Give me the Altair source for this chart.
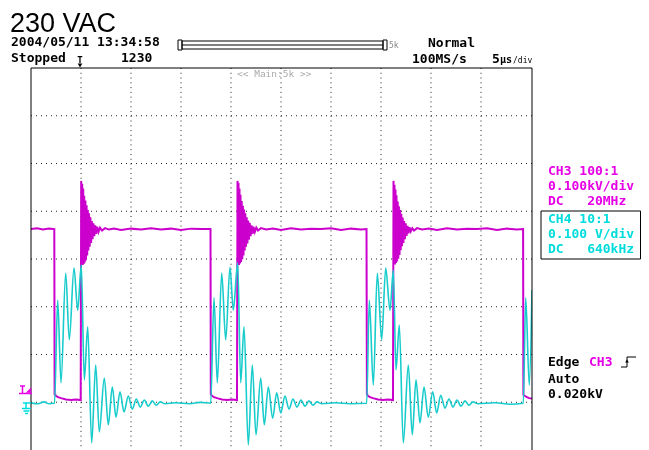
import altair as alt
import pandas as pd

T_DIVS = [5, 10, 15, 20, 25, 30, 35, 40, 45]          # µs grid lines (5 µs/div)
V_DIVS = [1, 2, 3, 4, 5, 6, 7]                        # vertical divisions

CH3_GROUND_DIV = 1.076   # CH3 0 kV position (div from bottom)
CH3_PER_DIV = 0.1        # kV/div
CH4_GROUND_DIV = 0.978   # CH4 0 V position
CH4_PER_DIV = 0.1        # V/div

CH3_T = [0.0, 0.6, 1.2, 1.8, 2.33, 2.36, 2.5, 2.7, 3.0, 3.5, 4.0, 4.5, 4.97,
         5.02, 5.07, 5.12, 5.17, 5.22, 5.27, 5.32, 5.38, 5.44, 5.50, 5.56, 5.62, 5.68, 5.74,
         5.80, 5.87, 5.94, 6.01, 6.08, 6.16, 6.24, 6.33, 6.42, 6.52, 6.62, 6.75, 6.90, 7.10,
         7.40, 7.80, 8.30, 9.0, 10.0, 11.0, 12.0, 13.0, 14.0, 15.0, 16.0, 17.0, 17.95,
         17.98, 18.1, 18.3, 18.6, 19.1, 19.6, 20.1, 20.6,
         20.65, 20.70, 20.75, 20.80, 20.85, 20.90, 20.95, 21.01, 21.07, 21.13, 21.19, 21.25,
         21.31, 21.37, 21.43, 21.50, 21.57, 21.64, 21.71, 21.79, 21.87, 21.96, 22.05, 22.15,
         22.25, 22.38, 22.53, 22.70, 23.0, 23.5, 24.2, 25.0, 26.0, 27.0, 28.0, 29.0, 30.0,
         31.0, 32.0, 33.0, 33.55,
         33.59, 33.7, 33.9, 34.2, 34.7, 35.2, 35.7, 36.2,
         36.25, 36.30, 36.35, 36.40, 36.45, 36.50, 36.55, 36.61, 36.67, 36.73, 36.79, 36.85,
         36.91, 36.97, 37.03, 37.10, 37.17, 37.24, 37.31, 37.39, 37.47, 37.56, 37.65, 37.75,
         37.85, 37.98, 38.13, 38.30, 38.6, 39.1, 39.8, 40.6, 41.6, 42.6, 43.6, 44.6, 45.6,
         46.6, 47.6, 48.6, 49.21, 49.24, 49.5, 49.8, 50.1]
CH3_KV = [0.355, 0.357, 0.354, 0.356, 0.355, 0.009, 0.006, 0.003, 0.001, -0.002, -0.003, -0.002, -0.003,
          0.456, 0.290, 0.450, 0.280, 0.440, 0.282, 0.425, 0.285, 0.415, 0.290, 0.405, 0.300, 0.395, 0.310,
          0.388, 0.318, 0.380, 0.326, 0.372, 0.334, 0.367, 0.340, 0.363, 0.345, 0.360, 0.349, 0.358, 0.352,
          0.357, 0.354, 0.356, 0.353, 0.356, 0.354, 0.357, 0.354, 0.356, 0.353, 0.356, 0.355, 0.355,
          0.009, 0.006, 0.003, 0.001, -0.002, -0.003, -0.002, -0.003,
          0.456, 0.288, 0.452, 0.280, 0.440, 0.283, 0.427, 0.286, 0.414, 0.292, 0.404, 0.300,
          0.396, 0.310, 0.388, 0.318, 0.380, 0.325, 0.373, 0.333, 0.368, 0.340, 0.363, 0.345,
          0.360, 0.349, 0.358, 0.352, 0.357, 0.354, 0.356, 0.353, 0.357, 0.354, 0.356, 0.355, 0.357,
          0.353, 0.356, 0.354, 0.355,
          0.009, 0.006, 0.003, 0.001, -0.002, -0.003, -0.002, -0.003,
          0.456, 0.290, 0.448, 0.281, 0.438, 0.284, 0.426, 0.287, 0.413, 0.293, 0.403, 0.301,
          0.395, 0.311, 0.387, 0.319, 0.379, 0.326, 0.372, 0.334, 0.367, 0.341, 0.362, 0.346,
          0.359, 0.350, 0.357, 0.352, 0.357, 0.354, 0.356, 0.353, 0.357, 0.354, 0.356, 0.355, 0.357,
          0.353, 0.356, 0.354, 0.355, 0.008, 0.004, 0.001, 0.000]

CH4_T = [0.0, 0.7, 1.3, 1.8, 2.35, 2.67, 3.00, 3.47, 3.83, 4.30, 4.67, 5.03, 5.33, 5.67, 6.07,
         6.47, 6.83, 7.33, 7.73, 8.13, 8.50, 8.90, 9.30, 9.73, 10.13, 10.53, 10.93, 11.33,
         11.73, 12.13, 12.53, 12.93, 13.40, 14.40, 15.90, 16.90, 17.97,
         18.30, 18.63, 19.07, 19.47, 19.90, 20.23, 20.67, 20.97, 21.30, 21.73, 22.13, 22.50,
         22.97, 23.33, 23.73, 24.17, 24.57, 24.97, 25.40, 25.80, 26.20, 26.60, 27.00, 27.40,
         27.80, 28.20, 28.60, 29.10, 30.40, 31.90, 33.57,
         33.83, 34.23, 34.63, 35.07, 35.47, 35.90, 36.23, 36.50, 36.83, 37.23, 37.73, 38.13,
         38.50, 38.90, 39.30, 39.73, 40.17, 40.57, 40.97, 41.40, 41.80, 42.20, 42.60, 43.00,
         43.40, 43.80, 44.20, 44.70, 46.40, 47.90, 49.23, 49.47, 49.83, 50.10]
CH4_V = [0.001, -0.001, 0.003, -0.001, 0.000, 0.216, 0.043, 0.272, 0.133, 0.283, 0.195, 0.290, 0.049, 0.160, -0.083,
         0.080, -0.060, 0.053, -0.045, 0.034, -0.029, 0.024, -0.018, 0.015, -0.012, 0.009, -0.008, 0.007,
         -0.006, 0.005, -0.004, 0.003, -0.001, 0.001, -0.001, 0.002, 0.000,
         0.221, 0.043, 0.273, 0.133, 0.285, 0.195, 0.294, 0.043, 0.160, -0.087, 0.080, -0.066,
         0.053, -0.045, 0.034, -0.031, 0.022, -0.020, 0.015, -0.012, 0.009, -0.008, 0.007, -0.006,
         0.005, -0.004, 0.003, -0.001, 0.001, -0.001, 0.000,
         0.216, 0.038, 0.272, 0.133, 0.283, 0.195, 0.279, 0.070, 0.164, -0.083, 0.080, -0.066,
         0.049, -0.041, 0.034, -0.029, 0.024, -0.020, 0.017, -0.010, 0.009, -0.008, 0.007, -0.006,
         0.005, -0.004, 0.003, -0.001, 0.001, -0.002, 0.000, 0.221, 0.038, 0.237]

# ---------------- layout ----------------
X0, Y0 = 31, 68            # page position of plot area origin
W, H = 501, 382            # 8 div * 47.75 px
Y_BOTTOM_DIV = 0.0
MONO = "DejaVu Sans Mono"
MAG = "#CC00CC"
MAG_TXT = "#E600E6"
CYN = "#18CCCC"
CYN_TXT = "#00DCDC"

xs = alt.Scale(domain=[0, 50.1], nice=False, zero=False)
ys = alt.Scale(domain=[Y_BOTTOM_DIV, 8], nice=False, zero=False)

ch3 = pd.DataFrame({"t": CH3_T, "v": CH3_KV})
ch3["div"] = CH3_GROUND_DIV + ch3["v"] / CH3_PER_DIV
ch3["i"] = range(len(ch3))
ch4 = pd.DataFrame({"t": CH4_T, "v": CH4_V})
ch4["div"] = CH4_GROUND_DIV + ch4["v"] / CH4_PER_DIV
ch4["i"] = range(len(ch4))

ONE = pd.DataFrame({"k": [0]})


def txt(s, x, y, color="#000000", size=13, weight="bold", font=MONO, align="left"):
    return alt.Chart(ONE).mark_text(text=s, font=font, fontSize=size, fontWeight=weight,
                                    color=color, align=align, baseline="alphabetic").encode(
        x=alt.value(x - X0), y=alt.value(y - Y0))


def rule(x1, y1, x2, y2, color="#000000", w=1):
    return alt.Chart(ONE).mark_rule(color=color, strokeWidth=w).encode(
        x=alt.value(x1 - X0), x2=alt.value(x2 - X0), y=alt.value(y1 - Y0), y2=alt.value(y2 - Y0))


def box(x1, y1, x2, y2, color="#000000", w=1):
    return alt.Chart(ONE).mark_rect(fillOpacity=0, stroke=color, strokeWidth=w).encode(
        x=alt.value(x1 - X0), x2=alt.value(x2 - X0), y=alt.value(y1 - Y0), y2=alt.value(y2 - Y0))


def pt(x, y, shape, color="#000000", size=30):
    return alt.Chart(ONE).mark_point(shape=shape, filled=True, size=size, color=color, opacity=1).encode(
        x=alt.value(x - X0), y=alt.value(y - Y0))


vgrid = alt.Chart(pd.DataFrame({"t": T_DIVS})).mark_rule(
    color="#222222", strokeWidth=1, strokeDash=[1, 3.775]).encode(
    x=alt.X("t:Q", scale=xs, axis=None))
hgrid = alt.Chart(pd.DataFrame({"d": V_DIVS})).mark_rule(
    color="#222222", strokeWidth=1, strokeDash=[1, 4]).encode(
    y=alt.Y("d:Q", scale=ys, axis=None))

line3 = alt.Chart(ch3).mark_line(color=MAG, strokeWidth=2, clip=True).encode(
    x=alt.X("t:Q", scale=xs, axis=None),
    y=alt.Y("div:Q", scale=ys, axis=None),
    order=alt.Order("i:Q"))
line4 = alt.Chart(ch4).mark_line(color=CYN, strokeWidth=1.6, interpolate="monotone",
                                 blend="multiply", clip=True).encode(
    x=alt.X("t:Q", scale=xs, axis=None),
    y=alt.Y("div:Q", scale=ys, axis=None),
    order=alt.Order("i:Q"))

layers = [vgrid, hgrid, line3, line4]

# screen frame (bottom edge is cut off in the photo)
layers += [
    rule(31, 68, 31, 450),
    rule(31, 68, 532, 68),
    rule(532, 68, 532, 450),
]

# header
layers += [
    alt.Chart(ONE).mark_text(text="230 VAC", font="'Liberation Sans', Arial",
                             fontSize=27, color="#000000", align="left", baseline="alphabetic").encode(
        x=alt.value(10 - X0), y=alt.value(32 - Y0)),
    txt("2004/05/11 13:34:58", 11, 46),
    txt("Stopped", 11, 62),
    txt("1230", 121, 62),
    txt("T", 80, 63, size=9, align="center"),
    pt(80, 65.5, "triangle-down", size=22),
    txt("Normal", 428, 47),
    txt("100MS/s", 412, 63),
    txt("5", 492, 63),
    txt("µs", 500, 63, size=10),
    txt("/div", 513, 63, size=8, weight="normal"),
    # time bar
    box(178, 40, 182, 50),
    box(182, 41, 383, 49),
    rule(182, 45, 383, 45),
    box(383, 40, 387, 50),
    txt("5k", 389, 48, color="#888888", size=8, weight="normal"),
    txt("<< Main:5k >>", 237, 77, color="#AAAAAA", size=9.5, weight="normal"),
]

# right panel
layers += [
    txt("CH3 100:1", 548, 175, color=MAG_TXT),
    txt("0.100kV/div", 548, 190, color=MAG_TXT),
    txt("DC\u00a0\u00a0\u00a020MHz", 548, 205, color=MAG_TXT),
    box(541, 211, 640.5, 259),
    txt("CH4 10:1", 548, 223, color=CYN_TXT),
    txt("0.100 V/div", 548, 238, color=CYN_TXT),
    txt("DC\u00a0\u00a0\u00a0640kHz", 548, 253, color=CYN_TXT),
    txt("Edge", 548, 366),
    txt("CH3", 589, 366, color=MAG_TXT),
    rule(621, 367, 627, 367),
    rule(627, 357, 627, 367),
    rule(627, 357, 636, 357),
    pt(627, 361, "triangle-up", size=14),
    txt("Auto", 548, 383),
    txt("0.020kV", 548, 398),
]

# left channel markers
layers += [
    rule(20, 386, 25, 386, color=MAG_TXT, w=1.5),
    rule(22.5, 386, 22.5, 393, color=MAG_TXT, w=1.5),
    pt(28.5, 390, "M1,-1L1,1L-1,1Z", color=MAG_TXT, size=30),
    rule(19, 393.5, 32, 393.5, color=MAG_TXT, w=1.5),
    rule(23, 403, 31, 403, color=CYN_TXT, w=1.5),
    rule(26, 403, 26, 408, color=CYN_TXT, w=1.5),
    rule(22, 408.5, 31, 408.5, color=CYN_TXT, w=1.5),
    rule(23.5, 411, 29.5, 411, color=CYN_TXT, w=1.5),
    rule(25, 413.5, 28, 413.5, color=CYN_TXT, w=1.5),
]

chart = alt.layer(*layers).properties(
    width=W, height=H,
    autosize=alt.AutoSizeParams(type="none"),
    padding={"left": 23, "top": 60, "right": 109, "bottom": 0},
    background="white",
).configure_view(strokeWidth=0)

chart.save("out.html", embed_options={"renderer": "svg", "actions": False})
